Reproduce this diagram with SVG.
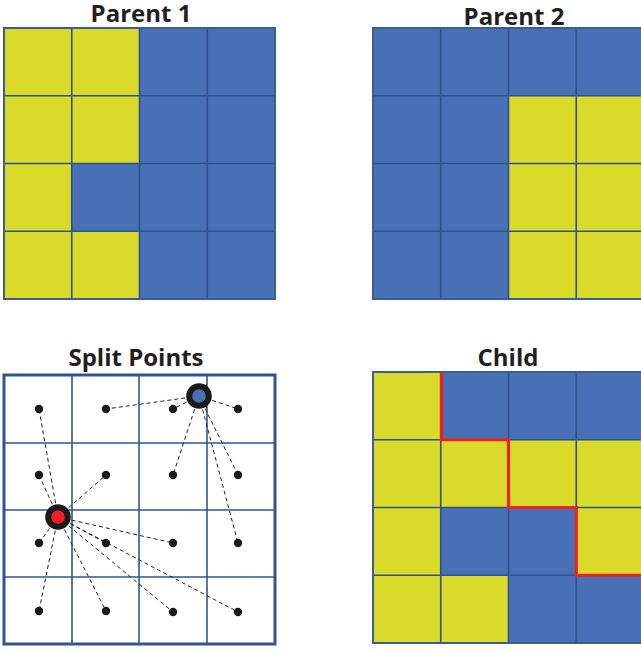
<svg xmlns="http://www.w3.org/2000/svg" width="641" height="652" viewBox="0 0 641 652">
<style>
.t{font-family:"Open Sans","Liberation Sans",sans-serif;font-weight:700;font-size:24px;fill:#231f20;text-anchor:middle}
.b{fill:#4770B6}
.y{fill:#D9DA29}
.gl{stroke:#2F528F;stroke-width:1.6;fill:none}
.ob{stroke:#3A5C99;stroke-width:2;fill:none}
.wl{stroke:#2F5597;stroke-width:1.6;fill:none}
.wo{stroke:#2F5597;stroke-width:3;fill:none}
.c{stroke:#222;stroke-width:1;stroke-dasharray:4 3;fill:none}
.d{fill:#1a1a1a}
</style>
<rect width="641" height="652" fill="#fff"/>

<g id="parent1">
<text class="t" x="141" y="22">Parent 1</text>
<rect class="y" x="4" y="28" width="135.5" height="271"/>
<rect class="b" x="139.5" y="28" width="135.5" height="271"/>
<rect class="b" x="71.75" y="163.5" width="67.75" height="67.75"/>
<path class="gl" d="M71.75 28V299M139.5 28V299M207.25 28V299M4 95.75H275M4 163.5H275M4 231.25H275"/>
<rect class="ob" x="4" y="28" width="271" height="271"/>
</g>

<g id="parent2">
<text class="t" x="514" y="25">Parent 2</text>
<rect class="b" x="373" y="28" width="271" height="271"/>
<rect class="y" x="508.5" y="95.75" width="135.5" height="203.25"/>
<path class="gl" d="M440.75 28V299M508.5 28V299M576.25 28V299M373 95.75H644M373 163.5H644M373 231.25H644"/>
<rect class="ob" x="373" y="28" width="271" height="271"/>
</g>

<g id="split-points">
<text class="t" x="136" y="366">Split Points</text>
<rect x="4" y="375" width="271" height="269" fill="#fff"/>
<path class="wl" d="M72 375V644M139 375V644M207 375V644M4 443H275M4 510H275M4 577H275"/>
<rect class="wo" x="4" y="375" width="271" height="269"/>
</g>

<g id="connectors">
<path class="c" d="M58 517L39 409M58 517L39 475M58 517L106 475M58 517L39 543M58 517L106 543M58 517L173 543M58 517L39 611M58 517L106 611M58 517L173 612M58 517L238 612"/>
<path class="c" d="M199 396L106 409M199 396L173 409M199 396L238 409M199 396L173 475M199 396L238 475M199 396L238 543"/>
</g>

<g id="points">
<circle class="d" cx="39" cy="409" r="4.2"/>
<circle class="d" cx="106" cy="409" r="4.2"/>
<circle class="d" cx="173" cy="409" r="4.2"/>
<circle class="d" cx="238" cy="409" r="4.2"/>
<circle class="d" cx="39" cy="475" r="4.2"/>
<circle class="d" cx="106" cy="475" r="4.2"/>
<circle class="d" cx="173" cy="475" r="4.2"/>
<circle class="d" cx="238" cy="475" r="4.2"/>
<circle class="d" cx="39" cy="543" r="4.2"/>
<circle class="d" cx="106" cy="543" r="4.2"/>
<circle class="d" cx="173" cy="543" r="4.2"/>
<circle class="d" cx="238" cy="543" r="4.2"/>
<circle class="d" cx="39" cy="611" r="4.2"/>
<circle class="d" cx="106" cy="611" r="4.2"/>
<circle class="d" cx="173" cy="612" r="4.2"/>
<circle class="d" cx="238" cy="612" r="4.2"/>
</g>

<g id="split-red">
<circle cx="58" cy="517" r="9.8" fill="#EE2024" stroke="#1a1a1a" stroke-width="6"/>
</g>
<g id="split-blue">
<circle cx="199" cy="396" r="9.8" fill="#4770B6" stroke="#1a1a1a" stroke-width="6"/>
</g>

<g id="child">
<text class="t" x="508" y="366">Child</text>
<rect class="y" x="373" y="372" width="271" height="271"/>
<rect class="b" x="440.75" y="372" width="203.25" height="67.75"/>
<rect class="b" x="440.75" y="507.5" width="135.5" height="67.75"/>
<rect class="b" x="508.5" y="575.25" width="135.5" height="67.75"/>
<path class="gl" d="M440.75 372V643M508.5 372V643M576.25 372V643M373 439.75H644M373 507.5H644M373 575.25H644"/>
<rect class="ob" x="373" y="372" width="271" height="271"/>
<path d="M441.5 372V439.75H508.5V507.5H576.25V575.25H644" fill="none" stroke="#EE2024" stroke-width="3.2"/>
</g>
</svg>
